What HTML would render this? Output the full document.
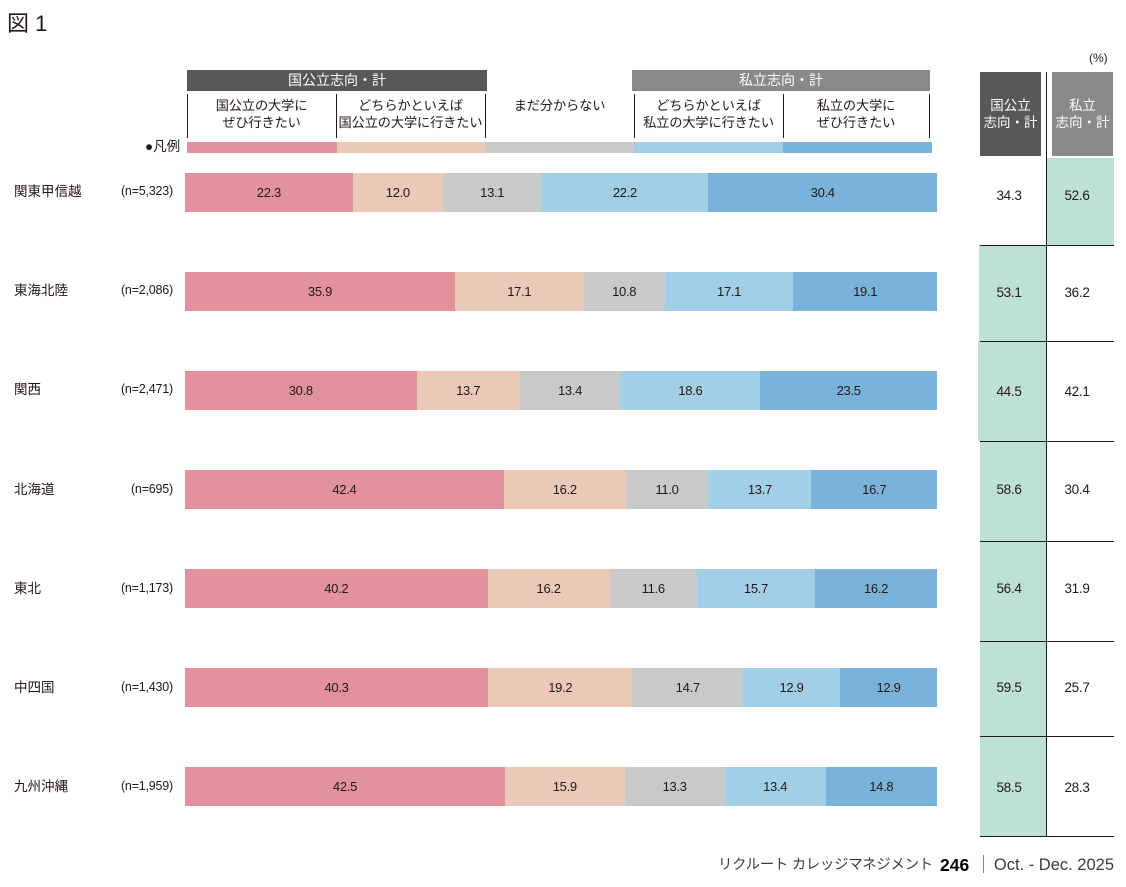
<!DOCTYPE html>
<html><head><meta charset="utf-8">
<style>
*{margin:0;padding:0;box-sizing:border-box}
body{width:1126px;height:887px;background:#fff;position:relative;overflow:hidden;font-family:"Liberation Sans","Noto Sans CJK JP",sans-serif;color:#231815}
.a{position:absolute}
.hdr{position:absolute;color:#fff;font-size:14px;text-align:center;line-height:21px;font-family:"Liberation Sans","Noto Sans CJK JP",sans-serif}
.col{position:absolute;top:97px;font-size:13.2px;line-height:17px;text-align:center;color:#231815;white-space:nowrap;letter-spacing:-0.1px}
.vl{position:absolute;top:94px;width:1px;height:44px;background:#231815}
.lg{position:absolute;top:142px;height:11px}
.bar{position:absolute;left:185px;width:752px;height:39px;display:flex}
.bar div{height:100%;display:flex;align-items:center;justify-content:center;font-size:13px;letter-spacing:-0.3px;color:#231815}
.lbl{position:absolute;left:14px;font-size:13.5px;line-height:20px}
.n{position:absolute;right:953px;font-size:12.5px;line-height:20px;letter-spacing:-0.2px}
.val{position:absolute;width:60px;text-align:center;font-size:13.5px;line-height:20px;letter-spacing:-0.3px}
.hl{position:absolute;left:980px;width:134px;height:1px;background:#231815}
.c1{background:#e2929c}.c2{background:#ebc9b9}.c3{background:#c8c9c9}.c4{background:#a3cfe6}.c5{background:#7ab3d9}
.g{position:absolute;background:#bde0d7}
</style></head><body>
<div class="a" style="left:7px;top:9px;font-size:22px;line-height:30px;color:#231815">図 1</div>
<div class="a" style="left:1089px;top:49px;font-size:12px;line-height:18px">(%)</div>

<div class="hdr" style="left:187px;top:70px;width:300px;height:21px;background:#595757">国公立志向・計</div>
<div class="hdr" style="left:632px;top:70px;width:298px;height:21px;background:#898989">私立志向・計</div>

<div class="col" style="left:187px;width:149px">国公立の大学に<br>ぜひ行きたい</div>
<div class="col" style="left:336px;width:149px">どちらかといえば<br>国公立の大学に行きたい</div>
<div class="col" style="left:485px;width:149px">まだ分からない</div>
<div class="col" style="left:634px;width:149px">どちらかといえば<br>私立の大学に行きたい</div>
<div class="col" style="left:783px;width:146px">私立の大学に<br>ぜひ行きたい</div>
<div class="vl" style="left:187px"></div>
<div class="vl" style="left:336px"></div>
<div class="vl" style="left:485px"></div>
<div class="vl" style="left:634px"></div>
<div class="vl" style="left:783px"></div>
<div class="vl" style="left:929px"></div>

<div class="a" style="left:145px;top:137px;font-size:13.5px;line-height:20px">●凡例</div>
<div class="lg c1" style="left:187px;width:150px"></div>
<div class="lg c2" style="left:337px;width:148px"></div>
<div class="lg c3" style="left:485px;width:149px"></div>
<div class="lg c4" style="left:634px;width:149px"></div>
<div class="lg c5" style="left:783px;width:149px"></div>

<!-- right table header -->
<div class="hdr" style="left:980px;top:72px;width:61px;height:84px;background:#595757;display:flex;align-items:center;justify-content:center;font-size:13.5px;line-height:17px">国公立<br>志向・計</div>
<div class="hdr" style="left:1052px;top:72px;width:61px;height:84px;background:#898989;display:flex;align-items:center;justify-content:center;font-size:13.5px;line-height:17px">私立<br>志向・計</div>

<!-- green cells -->
<div class="g" style="left:1047px;top:158px;width:67px;height:87px"></div>
<div class="g" style="left:979px;top:245px;width:67px;height:96px"></div>
<div class="g" style="left:978px;top:341px;width:68px;height:100px"></div>
<div class="g" style="left:980px;top:441px;width:66px;height:100px"></div>
<div class="g" style="left:980px;top:541px;width:66px;height:100px"></div>
<div class="g" style="left:980px;top:641px;width:66px;height:95px"></div>
<div class="g" style="left:980px;top:736px;width:66px;height:100px"></div>

<div class="a" style="left:1046px;top:72px;width:1px;height:764px;background:#231815"></div>
<div class="hl" style="top:245px"></div>
<div class="hl" style="top:341px"></div>
<div class="hl" style="top:441px"></div>
<div class="hl" style="top:541px"></div>
<div class="hl" style="top:641px"></div>
<div class="hl" style="top:736px"></div>
<div class="hl" style="top:836px"></div>

<!-- rows -->
<div class="lbl" style="top:182px">関東甲信越</div><div class="n" style="top:181px">(n=5,323)</div>
<div class="bar" style="top:173px"><div class="c1" style="flex:22.3">22.3</div><div class="c2" style="flex:12.0">12.0</div><div class="c3" style="flex:13.1">13.1</div><div class="c4" style="flex:22.2">22.2</div><div class="c5" style="flex:30.4">30.4</div></div>
<div class="val" style="left:979px;top:186px">34.3</div><div class="val" style="left:1047px;top:186px">52.6</div>

<div class="lbl" style="top:281px">東海北陸</div><div class="n" style="top:280px">(n=2,086)</div>
<div class="bar" style="top:272px"><div class="c1" style="flex:35.9">35.9</div><div class="c2" style="flex:17.1">17.1</div><div class="c3" style="flex:10.8">10.8</div><div class="c4" style="flex:17.1">17.1</div><div class="c5" style="flex:19.1">19.1</div></div>
<div class="val" style="left:979px;top:283px">53.1</div><div class="val" style="left:1047px;top:283px">36.2</div>

<div class="lbl" style="top:380px">関西</div><div class="n" style="top:379px">(n=2,471)</div>
<div class="bar" style="top:371px"><div class="c1" style="flex:30.8">30.8</div><div class="c2" style="flex:13.7">13.7</div><div class="c3" style="flex:13.4">13.4</div><div class="c4" style="flex:18.6">18.6</div><div class="c5" style="flex:23.5">23.5</div></div>
<div class="val" style="left:979px;top:382px">44.5</div><div class="val" style="left:1047px;top:382px">42.1</div>

<div class="lbl" style="top:480px">北海道</div><div class="n" style="top:479px">(n=695)</div>
<div class="bar" style="top:470px"><div class="c1" style="flex:42.4">42.4</div><div class="c2" style="flex:16.2">16.2</div><div class="c3" style="flex:11.0">11.0</div><div class="c4" style="flex:13.7">13.7</div><div class="c5" style="flex:16.7">16.7</div></div>
<div class="val" style="left:979px;top:480px">58.6</div><div class="val" style="left:1047px;top:480px">30.4</div>

<div class="lbl" style="top:579px">東北</div><div class="n" style="top:578px">(n=1,173)</div>
<div class="bar" style="top:569px"><div class="c1" style="flex:40.2">40.2</div><div class="c2" style="flex:16.2">16.2</div><div class="c3" style="flex:11.6">11.6</div><div class="c4" style="flex:15.7">15.7</div><div class="c5" style="flex:16.2">16.2</div></div>
<div class="val" style="left:979px;top:579px">56.4</div><div class="val" style="left:1047px;top:579px">31.9</div>

<div class="lbl" style="top:678px">中四国</div><div class="n" style="top:677px">(n=1,430)</div>
<div class="bar" style="top:668px"><div class="c1" style="flex:40.3">40.3</div><div class="c2" style="flex:19.2">19.2</div><div class="c3" style="flex:14.7">14.7</div><div class="c4" style="flex:12.9">12.9</div><div class="c5" style="flex:12.9">12.9</div></div>
<div class="val" style="left:979px;top:678px">59.5</div><div class="val" style="left:1047px;top:678px">25.7</div>

<div class="lbl" style="top:777px">九州沖縄</div><div class="n" style="top:776px">(n=1,959)</div>
<div class="bar" style="top:767px"><div class="c1" style="flex:42.5">42.5</div><div class="c2" style="flex:15.9">15.9</div><div class="c3" style="flex:13.3">13.3</div><div class="c4" style="flex:13.4">13.4</div><div class="c5" style="flex:14.8">14.8</div></div>
<div class="val" style="left:979px;top:778px">58.5</div><div class="val" style="left:1047px;top:778px">28.3</div>

<!-- footer -->
<div class="a" style="left:718px;top:855px;width:218px;font-size:14.3px;line-height:20px;color:#3e3a39;white-space:nowrap;letter-spacing:-0.2px">リクルート カレッジマネジメント</div>
<div class="a" style="left:940px;top:854px;font-size:17.5px;line-height:22px;font-weight:bold;color:#000">246</div>
<div class="a" style="left:983px;top:855px;width:1px;height:18px;background:#7a8a9a"></div>
<div class="a" style="right:12px;top:854px;font-size:16.5px;line-height:22px;color:#3e3a39;white-space:nowrap">Oct. - Dec. 2025</div>
</body></html>
